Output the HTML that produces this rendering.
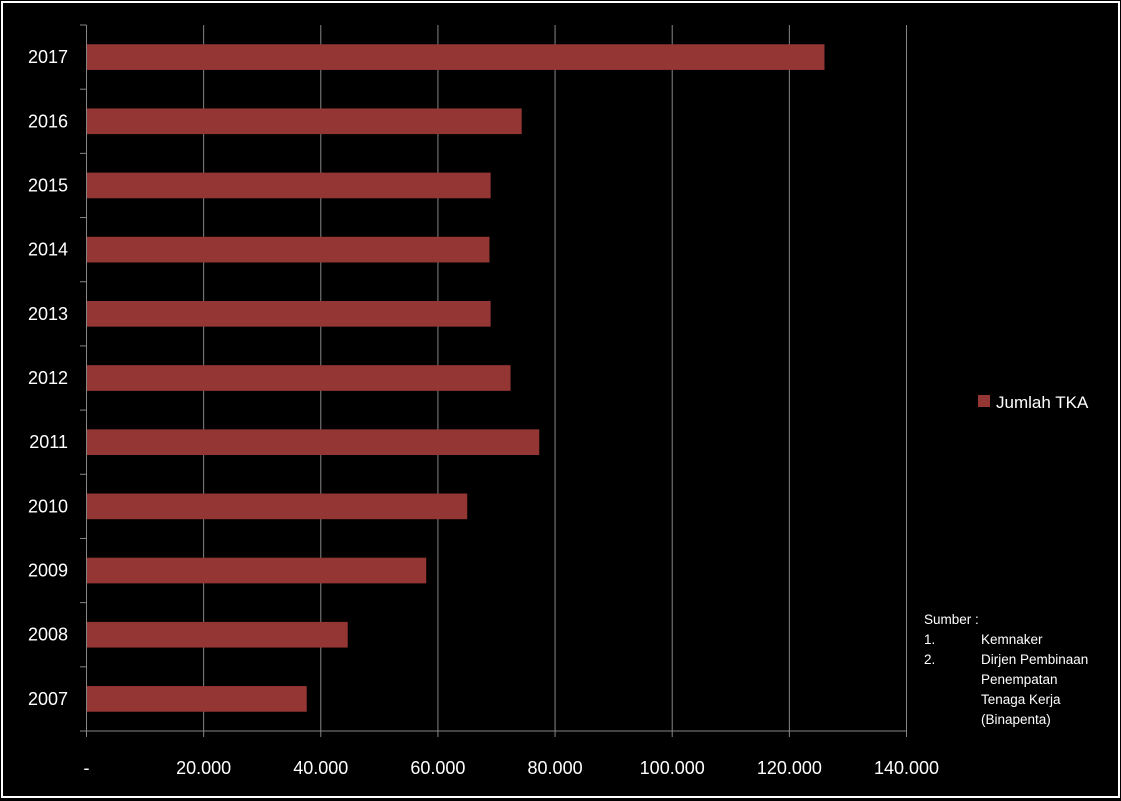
<!DOCTYPE html>
<html><head><meta charset="utf-8"><style>
html,body{margin:0;padding:0;background:#000;}
svg{display:block;font-family:"Liberation Sans",sans-serif;}
</style></head><body>
<svg width="1121" height="801">
<rect x="0" y="0" width="1121" height="801" fill="#000"/>
<rect x="2" y="2" width="1117" height="795" fill="none" stroke="#fff" stroke-width="2"/>
<g id="grid"></g><g id="bars"></g><g id="axes"></g>
<g>
<rect x="978" y="395" width="12" height="12" fill="#943634"/>
<text x="996" y="408" fill="#fff" font-size="17">Jumlah TKA</text>
</g>
<g fill="#fff" font-size="13.5">
<text x="924" y="624">Sumber :</text>
<text x="924" y="644">1.</text><text x="981" y="644">Kemnaker</text>
<text x="924" y="664">2.</text><text x="981" y="664">Dirjen Pembinaan</text>
<text x="981" y="684">Penempatan</text>
<text x="981" y="704">Tenaga Kerja</text>
<text x="981" y="724">(Binapenta)</text>
</g>
</svg>
<script>
const categories=["2017","2016","2015","2014","2013","2012","2011","2010","2009","2008","2007"];
const values=[126000,74300,69000,68800,69000,72400,77300,65000,58000,44600,37600];
const ticks=[0,20000,40000,60000,80000,100000,120000,140000];
const tickLabels=["-","20.000","40.000","60.000","80.000","100.000","120.000","140.000"];
const NS="http://www.w3.org/2000/svg";
const x0=86.5,x1=906.5,maxV=140000,yTop=25,yBottom=731;
const band=(yBottom-yTop)/categories.length;
const xs=v=>x0+(x1-x0)*v/maxV;
const ys=i=>yTop+band*i;
function mk(t,a,p){const e=document.createElementNS(NS,t);for(const k in a)e.setAttribute(k,a[k]);p.appendChild(e);return e;}
const grid=document.getElementById('grid'),bars=document.getElementById('bars'),axes=document.getElementById('axes');
ticks.forEach((t,i)=>{
  if(i>0){const l=mk('line',{x1:xs(t),x2:xs(t),y1:yTop,y2:yBottom+6,stroke:'#868686','stroke-width':1},grid);
  
  }
  const tx=mk('text',{x:xs(t),y:774,fill:'#fff','font-size':18,'text-anchor':'middle'},axes);
  tx.textContent=tickLabels[i];
  
  
});
categories.forEach((c,i)=>{
  const y=ys(i);
  const r=mk('rect',{x:x0,y:y+band*0.3,width:xs(values[i])-x0,height:band*0.4,fill:'#943634'},bars);
  
  
  const t=mk('text',{x:68,y:y+band/2+6,fill:'#fff','font-size':18,'text-anchor':'end'},axes);
  t.textContent=c;
  
  
});
for(let i=0;i<=categories.length;i++){
  const l=mk('line',{x1:80,x2:x0,y1:ys(i),y2:ys(i),stroke:'#868686'},axes);
  
  
}
const ya=mk('line',{x1:x0,x2:x0,y1:yTop,y2:yBottom+6,stroke:'#868686'},axes);


const xa=mk('line',{x1:x0,x2:x1,y1:yBottom,y2:yBottom,stroke:'#868686'},axes);


</script>
</body></html>
